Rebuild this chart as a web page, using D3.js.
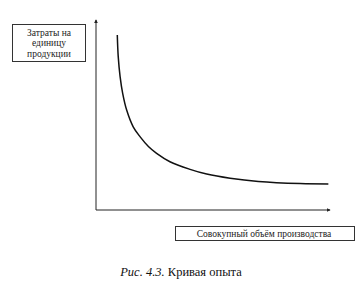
<!DOCTYPE html>
<html>
<head>
<meta charset="utf-8">
<script src="https://cdn.jsdelivr.net/npm/d3@7"></script>
<style>
  body { margin: 0; background: white; }
  svg { display: block; }
</style>
</head>
<body>
<div id="chart"></div>
<script>
let width = 358, height = 283;

let margin = { top: 20, bottom: 73, left: 96, right: 28 };

// experience curve: cumulative volume vs unit cost
let volume = [9.1, 9.5, 10.3, 11.4, 13.1, 15.9, 18.8, 22.4, 25.9, 31.6, 40.2, 47.3, 57.3, 69.4, 87.2, 99.3];
let unitCost = [92.1, 80.7, 70.2, 61.4, 52.6, 43.8, 38.6, 33.4, 29.8, 25.4, 21.4, 18.9, 16.7, 15.0, 13.9, 13.7];

let yLabelLines = ['Затраты на', 'единицу', 'продукции'];
let xLabel = 'Совокупный объём производства';

let svg = d3.select('#chart')
  .append('svg')
  .attr('width', width)
  .attr('height', height)
  .style('background', 'white');

let xscale = d3.scaleLinear()
  .domain([0, 100])
  .range([margin.left, width - margin.right]);

let yscale = d3.scaleLinear()
  .domain([0, 100])
  .range([height - margin.bottom, margin.top]);

let defs = svg.append('defs');
defs.append('marker')
  .attr('id', 'arrow')
  .attr('viewBox', '0 0 6 6')
  .attr('refX', 5)
  .attr('refY', 3)
  .attr('markerWidth', 4)
  .attr('markerHeight', 4)
  .attr('orient', 'auto')
  .append('path')
  .attr('d', 'M0,0 L6,3 L0,6 Z')
  .attr('fill', '#222');

// axes
svg.append('line')
  .attr('x1', xscale(0)).attr('y1', yscale(0))
  .attr('x2', xscale(0)).attr('y2', yscale(100))
  .attr('stroke', '#222')
  .attr('stroke-width', 1)
  .attr('marker-end', 'url(#arrow)');

svg.append('line')
  .attr('x1', xscale(0)).attr('y1', yscale(0))
  .attr('x2', xscale(100)).attr('y2', yscale(0))
  .attr('stroke', '#222')
  .attr('stroke-width', 1)
  .attr('marker-end', 'url(#arrow)');

// curve
let points = volume.map((v, i) => [v, unitCost[i]]);
let line = d3.line()
  .x(d => xscale(d[0]))
  .y(d => yscale(d[1]))
  .curve(d3.curveCatmullRom.alpha(0.5));

svg.append('path')
  .datum(points)
  .attr('d', line)
  .attr('fill', 'none')
  .attr('stroke', '#111')
  .attr('stroke-width', 1.5);

// y label box
svg.append('rect')
  .attr('x', 12.5).attr('y', 24.5)
  .attr('width', 73).attr('height', 37)
  .attr('fill', 'white')
  .attr('stroke', '#333')
  .attr('stroke-width', 1);

svg.append('g')
  .selectAll('text')
  .data(yLabelLines)
  .enter()
  .append('text')
  .text(d => d)
  .attr('x', 49)
  .attr('y', (d, i) => 35.5 + i * 10.5)
  .attr('text-anchor', 'middle')
  .style('font-family', '"Liberation Serif", "DejaVu Serif", serif')
  .style('font-size', '9.5px')
  .attr('fill', '#222');

// x label box
svg.append('rect')
  .attr('x', 175.5).attr('y', 226.5)
  .attr('width', 179).attr('height', 14)
  .attr('fill', 'white')
  .attr('stroke', '#333')
  .attr('stroke-width', 1);

svg.append('text')
  .text(xLabel)
  .attr('x', 264)
  .attr('y', 237)
  .attr('text-anchor', 'middle')
  .style('font-family', '"Liberation Serif", "DejaVu Serif", serif')
  .style('font-size', '9.5px')
  .attr('fill', '#222');

// caption
let caption = svg.append('text')
  .attr('x', 181)
  .attr('y', 276)
  .attr('text-anchor', 'middle')
  .style('font-family', '"Liberation Serif", "DejaVu Serif", serif')
  .style('font-size', '12.5px')
  .attr('fill', '#111');
caption.append('tspan').text('Рис. 4.3.').style('font-style', 'italic');
caption.append('tspan').text(' Кривая опыта');
</script>
</body>
</html>
